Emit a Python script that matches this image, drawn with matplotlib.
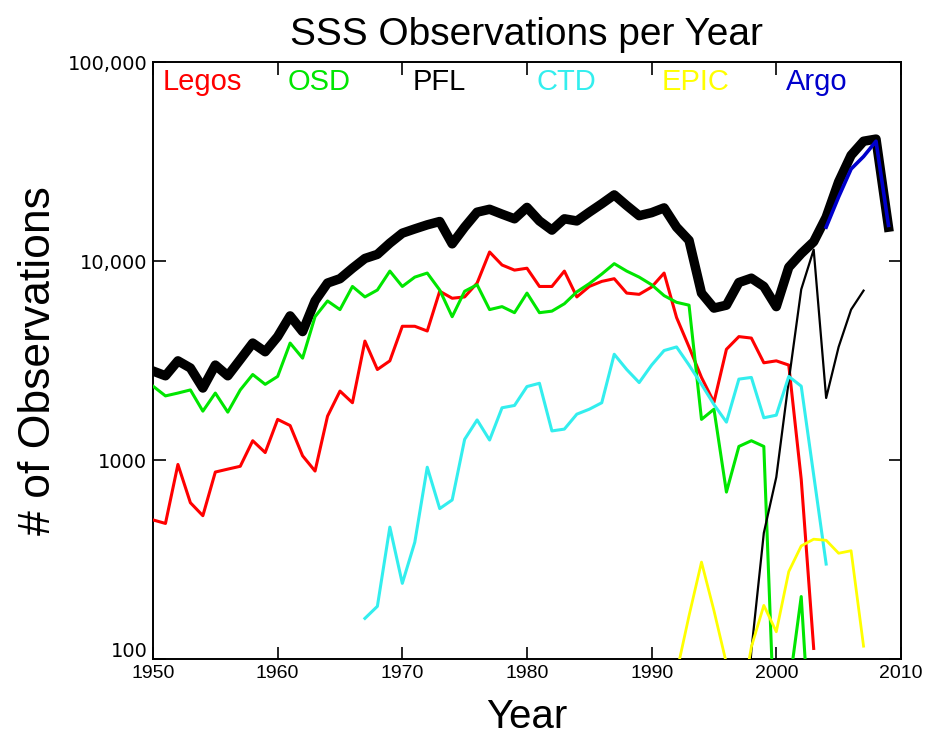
import numpy as np
import matplotlib
matplotlib.use('Agg')
from matplotlib import pyplot as plt
from matplotlib import transforms

plt.rcParams['font.family'] = ['Liberation Sans', 'DejaVu Sans']

# observations per year
total_years = np.arange(1950, 2010)
total_obs = [2800, 2650, 3150, 2900, 2300, 3000, 2650, 3200, 3870, 3500,
             4170, 5300, 4420, 6300, 7750, 8150, 9200, 10300, 10800, 12300,
             13800, 14500, 15200, 15800, 12200, 14800, 17600, 18200, 17200, 16300,
             18600, 15900, 14300, 16300, 15900, 17600, 19400, 21500, 19000, 16900,
             17500, 18500, 14800, 12700, 6900, 5800, 6000, 7800, 8200, 7450,
             5900, 9300, 10900, 12500, 16600, 25000, 34000, 40000, 41000, 14800]

legos_years = np.arange(1950, 2004)
legos_obs = [500, 480, 950, 610, 525, 870, 900, 930, 1250, 1090,
             1600, 1490, 1050, 880, 1660, 2220, 1940, 3960, 2850, 3150,
             4700, 4700, 4450, 7050, 6500, 6600, 7750, 11100, 9550, 9000,
             9200, 7450, 7450, 8900, 6600, 7450, 7900, 8150, 6900, 6800,
             7400, 8700, 5200, 3700, 2600, 1950, 3600, 4170, 4100, 3080,
             3150, 3000, 800, 113]

osd_years = np.arange(1950, 2004)
osd_obs = [2350, 2100, 2170, 2250, 1760, 2170, 1740, 2250, 2690, 2400,
           2630, 3870, 3250, 5250, 6300, 5700, 7450, 6600, 7150, 8900,
           7450, 8300, 8700, 7150, 5250, 7050, 7600, 5700, 5900, 5500,
           6900, 5500, 5600, 6100, 7000, 7700, 8600, 9700, 8900, 8300,
           7600, 6700, 6200, 6000, 1600, 1800, 690, 1170, 1250, 1170,
           25, 70, 206, 20]

pfl_years = np.arange(1997, 2008)
pfl_obs = [15, 110, 430, 820, 2500, 7200, 11400, 2050, 3700, 5700, 7100]

ctd_years = np.arange(1967, 2005)
ctd_obs = [160, 184, 460, 240, 386, 920, 570, 630, 1270, 1590,
           1260, 1830, 1880, 2340, 2430, 1400, 1430, 1700, 1800, 1940,
           3400, 2850, 2450, 3000, 3550, 3700, 3000, 2400, 1900, 1550,
           2550, 2600, 1630, 1680, 2630, 2350, 840, 300]

epic_years = np.arange(1991, 2008)
epic_obs = [40, 85, 165, 307, 175, 95, 50, 115, 186, 137,
            275, 370, 400, 395, 340, 350, 116]

argo_years = np.arange(2004, 2010)
argo_obs = [14800, 21000, 29000, 33500, 40000, 15100]

names = ['Legos', 'OSD', 'PFL', 'CTD', 'EPIC', 'Argo']
colors = ['#ff0000', '#00e600', '#000000', '#33eeee', '#ffff00', '#0000cc']

fig = plt.figure(figsize=(9.25, 7.35), dpi=100)
ax = fig.add_axes([0.1654, 0.1034, 0.8086, 0.8122])

ax.plot(total_years, total_obs, color='black', lw=6.8, zorder=2)
ax.plot(legos_years, legos_obs, color=colors[0], lw=2.2, zorder=3)
ax.plot(osd_years, osd_obs, color=colors[1], lw=2.2, zorder=3)
ax.plot(pfl_years, pfl_obs, color=colors[2], lw=1.6, zorder=3)
ax.plot(ctd_years, ctd_obs, color=colors[3], lw=2.2, zorder=3)
ax.plot(epic_years, epic_obs, color=colors[4], lw=2.0, zorder=3)
ax.plot(argo_years, argo_obs, color=colors[5], lw=2.6, zorder=4)

ax.set_yscale('log')
ax.set_xlim(1950, 2010)
ax.set_ylim(100, 100000)

ax.set_xticks(np.arange(1950, 2011, 10))
ax.set_xticklabels([str(y) for y in range(1950, 2011, 10)], fontsize=14)
ax.set_yticks([100, 1000, 10000, 100000])
ax.set_yticklabels(['100', '1000', '10,000', '100,000'], fontsize=14,
                   family='DejaVu Sans')
ax.yaxis.set_minor_locator(matplotlib.ticker.NullLocator())
ax.tick_params(direction='in', length=9, width=1.2, top=True, right=True, pad=4)
for s in ax.spines.values():
    s.set_linewidth(1.4)

# the '100' label sits a little above the bottom tick so it clears '1950'
lab = ax.get_yticklabels()[0]
lab.set_transform(lab.get_transform() +
                  transforms.ScaledTranslation(0, 7 / 72, fig.dpi_scale_trans))

# series names across the top, like a legend
trans = transforms.blended_transform_factory(ax.transData, ax.transAxes)
for i, (n, c) in enumerate(zip(names, colors)):
    ax.text(1950.8 + 10 * i, 0.966, n, color=c, fontsize=21,
            transform=trans, ha='left', va='center')

ax.set_title('SSS Observations per Year', fontsize=28, pad=12)
ax.set_xlabel('Year', fontsize=29, labelpad=12)
ax.set_ylabel('# of Observations', fontsize=32, labelpad=6)

plt.savefig('out.png', dpi=100)
